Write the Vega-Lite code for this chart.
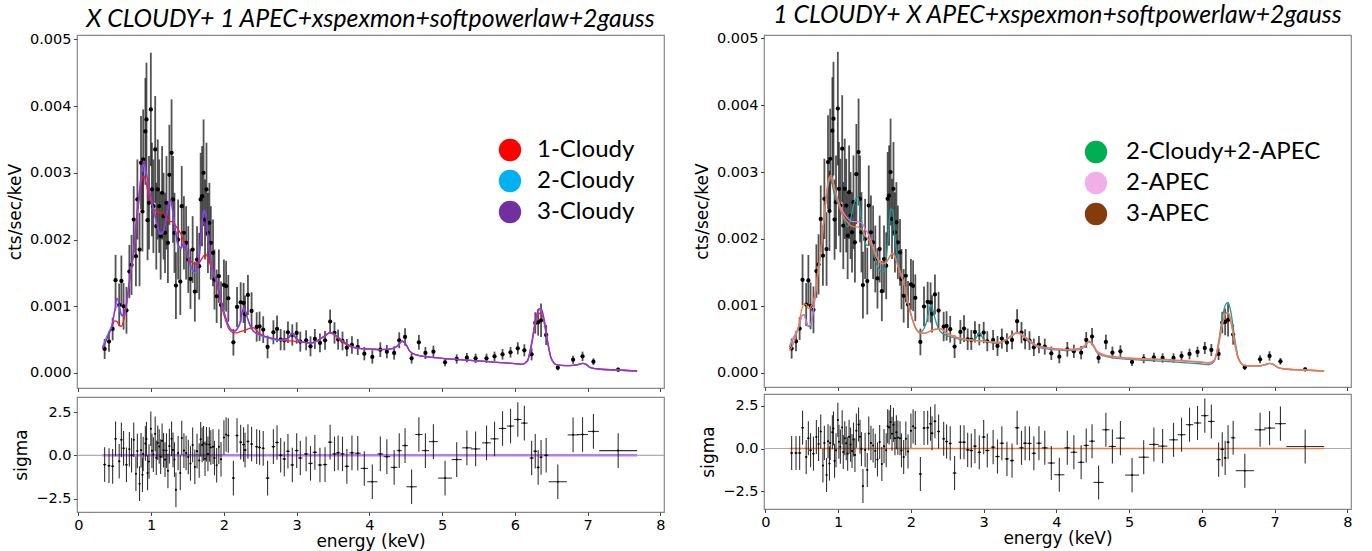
{
"$schema": "https://vega.github.io/schema/vega-lite/v6.json",
"padding": {"left": 5, "top": 2, "right": 5, "bottom": 1},
"background": "white",
"config": {
 "view": {"stroke": "#888888", "strokeWidth": 1.2},
 "axis": {"domain": false, "grid": false, "tickColor": "#444444", "tickSize": 3.5, "tickWidth": 1, "labelFont": "DejaVu Sans", "labelFontSize": 14.5, "labelColor": "#000000", "labelPadding": 2.5, "labelFlush": false, "labelOverlap": false, "titleFont": "DejaVu Sans", "titleFontSize": 17, "titleFontWeight": "normal", "titleColor": "#000000", "titlePadding": 5},
 "title": {"font": "Lato", "fontSize": 24.8, "fontStyle": "italic", "fontWeight": "normal", "color": "#000000", "anchor": "middle"},
 "legend": {"labelFont": "Lato", "labelFontSize": 24, "labelColor": "#000000", "symbolType": "circle", "symbolSize": 500, "symbolStrokeWidth": 0, "symbolOpacity": 1, "rowPadding": 7, "padding": 0, "labelLimit": 400}
},
"datasets": {
"pts": [
{"E":0.36,"v":0.00036,"e":0.00015,"xe":0.02,"se":1,"rl":-0.54,"rr":-0.26},
{"E":0.42,"v":0.00047,"e":0.00015,"xe":0.02,"se":1,"rl":-0.60,"rr":-0.26},
{"E":0.47,"v":0.00066,"e":0.00017,"xe":0.02,"se":1,"rl":-0.64,"rr":-0.26},
{"E":0.51,"v":0.00139,"e":0.00038,"xe":0.015,"se":1,"rl":0.95,"rr":1.22},
{"E":0.56,"v":0.00102,"e":0.00032,"xe":0.015,"se":1,"rl":-0.35,"rr":-0.50},
{"E":0.59,"v":0.00138,"e":0.00038,"xe":0.015,"se":1,"rl":0.90,"rr":0.60},
{"E":0.62,"v":0.00100,"e":0.00035,"xe":0.015,"se":1,"rl":0.40,"rr":-0.10},
{"E":0.66,"v":0.00094,"e":0.00035,"xe":0.015,"se":1,"rl":-0.55,"rr":-0.30},
{"E":0.70,"v":0.00152,"e":0.00040,"xe":0.01,"se":1,"rl":0.35,"rr":0.68},
{"E":0.73,"v":0.00162,"e":0.00045,"xe":0.01,"se":1,"rl":0.00,"rr":0.27},
{"E":0.76,"v":0.00230,"e":0.00050,"xe":0.01,"se":1,"rl":0.90,"rr":1.00},
{"E":0.79,"v":0.00175,"e":0.00045,"xe":0.01,"se":1,"rl":-1.07,"rr":-1.00},
{"E":0.81,"v":0.00260,"e":0.00060,"xe":0.01,"se":1,"rl":0.25,"rr":0.33},
{"E":0.84,"v":0.00185,"e":0.00055,"xe":0.01,"se":1,"rl":-1.64,"rr":-1.55},
{"E":0.86,"v":0.00315,"e":0.00070,"xe":0.01,"se":1,"rl":0.29,"rr":0.43},
{"E":0.88,"v":0.00242,"e":0.00060,"xe":0.01,"se":1,"rl":-1.13,"rr":-0.88},
{"E":0.89,"v":0.00320,"e":0.00075,"xe":0.01,"se":1,"rl":0.07,"rr":0.33},
{"E":0.92,"v":0.00362,"e":0.00080,"xe":0.01,"se":1,"rl":0.68,"rr":0.96},
{"E":0.935,"v":0.00380,"e":0.00085,"xe":0.01,"se":1,"rl":0.94,"rr":1.18},
{"E":0.95,"v":0.00229,"e":0.00060,"xe":0.01,"se":1,"rl":-1.02,"rr":-0.72},
{"E":0.97,"v":0.00255,"e":0.00070,"xe":0.01,"se":1,"rl":-0.36,"rr":-0.10},
{"E":0.995,"v":0.00395,"e":0.00085,"xe":0.01,"se":1,"rl":1.53,"rr":1.68},
{"E":1.01,"v":0.00275,"e":0.00070,"xe":0.01,"se":1,"rl":0.26,"rr":0.40},
{"E":1.03,"v":0.00250,"e":0.00070,"xe":0.01,"se":1,"rl":0.04,"rr":0.11},
{"E":1.055,"v":0.00335,"e":0.00080,"xe":0.01,"se":1,"rl":1.24,"rr":1.24},
{"E":1.07,"v":0.00220,"e":0.00065,"xe":0.01,"se":1,"rl":-0.14,"rr":-0.20},
{"E":1.09,"v":0.00275,"e":0.00075,"xe":0.01,"se":1,"rl":0.72,"rr":0.60},
{"E":1.11,"v":0.00250,"e":0.00070,"xe":0.01,"se":1,"rl":0.51,"rr":0.31},
{"E":1.13,"v":0.00205,"e":0.00065,"xe":0.01,"se":1,"rl":-0.08,"rr":-0.31},
{"E":1.15,"v":0.00270,"e":0.00070,"xe":0.01,"se":1,"rl":0.84,"rr":0.69},
{"E":1.17,"v":0.00235,"e":0.00065,"xe":0.01,"se":1,"rl":0.29,"rr":0.23},
{"E":1.19,"v":0.00210,"e":0.00060,"xe":0.01,"se":1,"rl":-0.25,"rr":-0.15},
{"E":1.21,"v":0.00255,"e":0.00070,"xe":0.01,"se":1,"rl":0.27,"rr":0.53},
{"E":1.23,"v":0.00195,"e":0.00060,"xe":0.01,"se":1,"rl":-0.90,"rr":-0.38},
{"E":1.25,"v":0.00297,"e":0.00075,"xe":0.01,"se":1,"rl":0.53,"rr":1.05},
{"E":1.28,"v":0.00330,"e":0.00080,"xe":0.01,"se":1,"rl":0.96,"rr":1.41},
{"E":1.30,"v":0.00260,"e":0.00065,"xe":0.01,"se":1,"rl":0.31,"rr":0.69},
{"E":1.32,"v":0.00210,"e":0.00060,"xe":0.01,"se":1,"rl":-0.25,"rr":-0.03},
{"E":1.34,"v":0.00131,"e":0.00050,"xe":0.01,"se":1,"rl":-2.00,"rr":-2.20},
{"E":1.37,"v":0.00200,"e":0.00060,"xe":0.01,"se":1,"rl":0.13,"rr":-0.08},
{"E":1.40,"v":0.00137,"e":0.00050,"xe":0.01,"se":1,"rl":-1.02,"rr":-1.26},
{"E":1.42,"v":0.00250,"e":0.00060,"xe":0.01,"se":1,"rl":1.00,"rr":0.88},
{"E":1.45,"v":0.00210,"e":0.00055,"xe":0.01,"se":1,"rl":0.27,"rr":0.33},
{"E":1.48,"v":0.00195,"e":0.00055,"xe":0.01,"se":1,"rl":0.13,"rr":0.18},
{"E":1.51,"v":0.00170,"e":0.00050,"xe":0.01,"se":1,"rl":-0.10,"rr":-0.14},
{"E":1.54,"v":0.00141,"e":0.00045,"xe":0.01,"se":1,"rl":-0.47,"rr":-0.64},
{"E":1.57,"v":0.00185,"e":0.00050,"xe":0.01,"se":1,"rl":0.60,"rr":0.38},
{"E":1.60,"v":0.00122,"e":0.00045,"xe":0.01,"se":1,"rl":-0.67,"rr":-0.91},
{"E":1.63,"v":0.00170,"e":0.00050,"xe":0.01,"se":1,"rl":0.24,"rr":0.14},
{"E":1.66,"v":0.00160,"e":0.00050,"xe":0.01,"se":1,"rl":-0.30,"rr":-0.10},
{"E":1.68,"v":0.00260,"e":0.00070,"xe":0.01,"se":1,"rl":0.93,"rr":1.31},
{"E":1.70,"v":0.00265,"e":0.00075,"xe":0.01,"se":1,"rl":0.60,"rr":1.24},
{"E":1.72,"v":0.00300,"e":0.00080,"xe":0.01,"se":1,"rl":0.69,"rr":1.55},
{"E":1.74,"v":0.00230,"e":0.00060,"xe":0.01,"se":1,"rl":-0.20,"rr":0.87},
{"E":1.76,"v":0.00275,"e":0.00070,"xe":0.01,"se":1,"rl":0.64,"rr":1.39},
{"E":1.78,"v":0.00210,"e":0.00060,"xe":0.01,"se":1,"rl":0.08,"rr":0.60},
{"E":1.80,"v":0.00225,"e":0.00060,"xe":0.01,"se":1,"rl":0.62,"rr":0.95},
{"E":1.82,"v":0.00195,"e":0.00055,"xe":0.01,"se":1,"rl":0.45,"rr":0.64},
{"E":1.85,"v":0.00180,"e":0.00050,"xe":0.01,"se":1,"rl":0.50,"rr":0.60},
{"E":1.87,"v":0.00140,"e":0.00045,"xe":0.01,"se":1,"rl":-0.16,"rr":-0.11},
{"E":1.90,"v":0.00115,"e":0.00040,"xe":0.01,"se":1,"rl":-0.58,"rr":-0.50},
{"E":1.93,"v":0.00145,"e":0.00040,"xe":0.01,"se":1,"rl":0.50,"rr":0.58},
{"E":1.96,"v":0.00102,"e":0.00035,"xe":0.01,"se":1,"rl":-0.23,"rr":-0.17},
{"E":2.00,"v":0.00132,"e":0.00038,"xe":0.012,"se":1,"rl":1.03,"rr":1.05},
{"E":2.03,"v":0.00130,"e":0.00038,"xe":0.012,"se":1,"rl":1.20,"rr":1.30},
{"E":2.06,"v":0.00112,"e":0.00035,"xe":0.012,"se":1,"rl":1.14,"rr":1.20},
{"E":2.13,"v":0.00046,"e":0.00020,"xe":0.02,"se":1,"rl":-1.32,"rr":-1.50},
{"E":2.18,"v":0.00099,"e":0.00030,"xe":0.02,"se":1,"rl":1.14,"rr":1.20},
{"E":2.23,"v":0.00106,"e":0.00030,"xe":0.02,"se":1,"rl":0.76,"rr":1.22},
{"E":2.27,"v":0.00105,"e":0.00030,"xe":0.02,"se":1,"rl":0.62,"rr":1.45},
{"E":2.29,"v":0.00088,"e":0.00028,"xe":0.02,"se":1,"rl":0.30,"rr":0.90},
{"E":2.33,"v":0.00117,"e":0.00030,"xe":0.02,"se":1,"rl":0.80,"rr":1.60},
{"E":2.38,"v":0.00093,"e":0.00028,"xe":0.02,"se":1,"rl":0.65,"rr":1.00},
{"E":2.45,"v":0.00069,"e":0.00022,"xe":0.02,"se":1,"rl":0.50,"rr":0.57},
{"E":2.49,"v":0.00070,"e":0.00022,"xe":0.02,"se":1,"rl":0.45,"rr":0.41},
{"E":2.54,"v":0.00065,"e":0.00020,"xe":0.02,"se":1,"rl":0.40,"rr":0.30},
{"E":2.60,"v":0.00039,"e":0.00017,"xe":0.025,"se":1,"rl":-1.32,"rr":-1.44},
{"E":2.68,"v":0.00061,"e":0.00018,"xe":0.025,"se":1,"rl":0.50,"rr":0.37},
{"E":2.73,"v":0.00066,"e":0.00020,"xe":0.025,"se":1,"rl":0.74,"rr":0.37},
{"E":2.78,"v":0.00050,"e":0.00016,"xe":0.025,"se":1,"rl":0.00,"rr":-0.08},
{"E":2.83,"v":0.00049,"e":0.00015,"xe":0.025,"se":1,"rl":-0.21,"rr":-0.12},
{"E":2.88,"v":0.00061,"e":0.00016,"xe":0.025,"se":1,"rl":0.23,"rr":0.14},
{"E":2.94,"v":0.00057,"e":0.00016,"xe":0.025,"se":1,"rl":-0.56,"rr":-0.22},
{"E":3.00,"v":0.00060,"e":0.00016,"xe":0.025,"se":1,"rl":0.27,"rr":0.67},
{"E":3.05,"v":0.00047,"e":0.00015,"xe":0.03,"se":1,"rl":-0.16,"rr":-0.12},
{"E":3.13,"v":0.00049,"e":0.00015,"xe":0.03,"se":1,"rl":0.08,"rr":0.08},
{"E":3.19,"v":0.00040,"e":0.00015,"xe":0.03,"se":1,"rl":-0.47,"rr":-0.47},
{"E":3.25,"v":0.00051,"e":0.00015,"xe":0.03,"se":1,"rl":0.17,"rr":0.31},
{"E":3.32,"v":0.00045,"e":0.00014,"xe":0.03,"se":1,"rl":-0.56,"rr":-0.61},
{"E":3.39,"v":0.00049,"e":0.00014,"xe":0.03,"se":1,"rl":-0.54,"rr":-0.71},
{"E":3.46,"v":0.00077,"e":0.00018,"xe":0.03,"se":1,"rl":0.76,"rr":1.22},
{"E":3.52,"v":0.00060,"e":0.00016,"xe":0.03,"se":1,"rl":0.08,"rr":0.04},
{"E":3.57,"v":0.00050,"e":0.00015,"xe":0.03,"se":1,"rl":0.14,"rr":0.31},
{"E":3.63,"v":0.00048,"e":0.00014,"xe":0.03,"se":1,"rl":0.08,"rr":0.30},
{"E":3.69,"v":0.00038,"e":0.00013,"xe":0.03,"se":1,"rl":-0.64,"rr":-0.28},
{"E":3.76,"v":0.00042,"e":0.00013,"xe":0.035,"se":1,"rl":0.14,"rr":0.31},
{"E":3.84,"v":0.00039,"e":0.00012,"xe":0.04,"se":1,"rl":0.12,"rr":0.04},
{"E":3.93,"v":0.00029,"e":0.00010,"xe":0.05,"se":1,"rl":-0.76,"rr":-0.85},
{"E":4.04,"v":0.00024,"e":0.00010,"xe":0.07,"se":1,"rl":-1.53,"rr":-1.54},
{"E":4.15,"v":0.00035,"e":0.00011,"xe":0.04,"se":1,"rl":0.08,"rr":0.04},
{"E":4.24,"v":0.00032,"e":0.00010,"xe":0.045,"se":1,"rl":-0.08,"rr":-0.22},
{"E":4.34,"v":0.00030,"e":0.00010,"xe":0.045,"se":1,"rl":-0.70,"rr":-0.81},
{"E":4.41,"v":0.00049,"e":0.00012,"xe":0.035,"se":1,"rl":0.27,"rr":0.18},
{"E":4.49,"v":0.00054,"e":0.00013,"xe":0.04,"se":1,"rl":0.56,"rr":0.43},
{"E":4.58,"v":0.00022,"e":0.00008,"xe":0.07,"se":1,"rl":-1.82,"rr":-1.99},
{"E":4.68,"v":0.00046,"e":0.00011,"xe":0.05,"se":1,"rl":1.20,"rr":1.10},
{"E":4.77,"v":0.00030,"e":0.00009,"xe":0.05,"se":1,"rl":0.27,"rr":0.12},
{"E":4.88,"v":0.00032,"e":0.00009,"xe":0.06,"se":1,"rl":0.79,"rr":0.61},
{"E":5.04,"v":0.00016,"e":0.00006,"xe":0.095,"se":1,"rl":-1.32,"rr":-1.56},
{"E":5.20,"v":0.00021,"e":0.00007,"xe":0.07,"se":1,"rl":-0.25,"rr":-0.51},
{"E":5.34,"v":0.00023,"e":0.00007,"xe":0.065,"se":1,"rl":0.43,"rr":0.24},
{"E":5.46,"v":0.00022,"e":0.00007,"xe":0.065,"se":1,"rl":0.37,"rr":0.14},
{"E":5.61,"v":0.00022,"e":0.00007,"xe":0.06,"se":1,"rl":0.72,"rr":0.51},
{"E":5.72,"v":0.00025,"e":0.00007,"xe":0.055,"se":1,"rl":0.95,"rr":0.81},
{"E":5.83,"v":0.00028,"e":0.00008,"xe":0.05,"se":1,"rl":1.55,"rr":1.40},
{"E":5.94,"v":0.00031,"e":0.00008,"xe":0.05,"se":1,"rl":1.69,"rr":1.50},
{"E":6.04,"v":0.00037,"e":0.00009,"xe":0.05,"se":1,"rl":2.07,"rr":1.93},
{"E":6.13,"v":0.00034,"e":0.00009,"xe":0.045,"se":1,"rl":1.86,"rr":1.59},
{"E":6.23,"v":0.00028,"e":0.00009,"xe":0.03,"se":1,"rl":-0.16,"rr":-0.65},
{"E":6.28,"v":0.00075,"e":0.00016,"xe":0.025,"se":1,"rl":0.23,"rr":-0.05},
{"E":6.32,"v":0.00076,"e":0.00020,"xe":0.02,"se":1,"rl":-0.70,"rr":-0.55},
{"E":6.36,"v":0.00079,"e":0.00025,"xe":0.02,"se":1,"rl":-0.12,"rr":0.37},
{"E":6.43,"v":0.00057,"e":0.00015,"xe":0.03,"se":1,"rl":0.00,"rr":0.63},
{"E":6.59,"v":0.00008,"e":0.00004,"xe":0.125,"se":1,"rl":-1.53,"rr":-1.30},
{"E":6.80,"v":0.00020,"e":0.00006,"xe":0.075,"se":1,"rl":1.18,"rr":1.10},
{"E":6.93,"v":0.00025,"e":0.00007,"xe":0.075,"se":1,"rl":1.20,"rr":1.20},
{"E":7.08,"v":0.00017,"e":0.00005,"xe":0.075,"se":1,"rl":1.38,"rr":1.46},
{"E":7.42,"v":0.00005,"e":0.00003,"xe":0.26,"se":1,"rl":0.27,"rr":0.12}
],
"mod": [
{"E":0.33,"1-Cloudy":0.00038,"2-Cloudy":0.00038,"3-Cloudy":0.00036,"2-Cloudy+2-APEC":0.00038,"2-APEC":0.00040,"3-APEC":0.00033},
{"E":0.38,"1-Cloudy":0.00050,"2-Cloudy":0.00052,"3-Cloudy":0.00048,"2-Cloudy+2-APEC":0.00050,"2-APEC":0.00052,"3-APEC":0.00042},
{"E":0.42,"1-Cloudy":0.00060,"2-Cloudy":0.00062,"3-Cloudy":0.00058,"2-Cloudy+2-APEC":0.00058,"2-APEC":0.00060,"3-APEC":0.00055},
{"E":0.46,"1-Cloudy":0.00070,"2-Cloudy":0.00072,"3-Cloudy":0.00070,"2-Cloudy+2-APEC":0.00068,"2-APEC":0.00070,"3-APEC":0.00072},
{"E":0.50,"1-Cloudy":0.00078,"2-Cloudy":0.00092,"3-Cloudy":0.00095,"2-Cloudy+2-APEC":0.00085,"2-APEC":0.00085,"3-APEC":0.00095},
{"E":0.53,"1-Cloudy":0.00077,"2-Cloudy":0.00100,"3-Cloudy":0.00112,"2-Cloudy+2-APEC":0.00087,"2-APEC":0.00086,"3-APEC":0.00103},
{"E":0.56,"1-Cloudy":0.00072,"2-Cloudy":0.00098,"3-Cloudy":0.00102,"2-Cloudy+2-APEC":0.00078,"2-APEC":0.00076,"3-APEC":0.00102},
{"E":0.59,"1-Cloudy":0.00070,"2-Cloudy":0.00086,"3-Cloudy":0.00088,"2-Cloudy+2-APEC":0.00069,"2-APEC":0.00070,"3-APEC":0.00096},
{"E":0.62,"1-Cloudy":0.00078,"2-Cloudy":0.00085,"3-Cloudy":0.00086,"2-Cloudy+2-APEC":0.00070,"2-APEC":0.00072,"3-APEC":0.00098},
{"E":0.65,"1-Cloudy":0.00095,"2-Cloudy":0.00097,"3-Cloudy":0.00098,"2-Cloudy+2-APEC":0.00085,"2-APEC":0.00088,"3-APEC":0.00105},
{"E":0.69,"1-Cloudy":0.00125,"2-Cloudy":0.00128,"3-Cloudy":0.00130,"2-Cloudy+2-APEC":0.00120,"2-APEC":0.00122,"3-APEC":0.00122},
{"E":0.72,"1-Cloudy":0.00150,"2-Cloudy":0.00153,"3-Cloudy":0.00155,"2-Cloudy+2-APEC":0.00148,"2-APEC":0.00148,"3-APEC":0.00148},
{"E":0.76,"1-Cloudy":0.00180,"2-Cloudy":0.00183,"3-Cloudy":0.00185,"2-Cloudy+2-APEC":0.00180,"2-APEC":0.00180,"3-APEC":0.00180},
{"E":0.80,"1-Cloudy":0.00225,"2-Cloudy":0.00232,"3-Cloudy":0.00235,"2-Cloudy+2-APEC":0.00225,"2-APEC":0.00225,"3-APEC":0.00225},
{"E":0.84,"1-Cloudy":0.00265,"2-Cloudy":0.00272,"3-Cloudy":0.00275,"2-Cloudy+2-APEC":0.00265,"2-APEC":0.00265,"3-APEC":0.00268},
{"E":0.87,"1-Cloudy":0.00290,"2-Cloudy":0.00302,"3-Cloudy":0.00305,"2-Cloudy+2-APEC":0.00285,"2-APEC":0.00288,"3-APEC":0.00290},
{"E":0.90,"1-Cloudy":0.00295,"2-Cloudy":0.00312,"3-Cloudy":0.00318,"2-Cloudy+2-APEC":0.00289,"2-APEC":0.00292,"3-APEC":0.00295},
{"E":0.93,"1-Cloudy":0.00285,"2-Cloudy":0.00298,"3-Cloudy":0.00302,"2-Cloudy+2-APEC":0.00275,"2-APEC":0.00285,"3-APEC":0.00285},
{"E":0.96,"1-Cloudy":0.00270,"2-Cloudy":0.00282,"3-Cloudy":0.00285,"2-Cloudy+2-APEC":0.00262,"2-APEC":0.00272,"3-APEC":0.00270},
{"E":1.00,"1-Cloudy":0.00255,"2-Cloudy":0.00260,"3-Cloudy":0.00262,"2-Cloudy+2-APEC":0.00252,"2-APEC":0.00258,"3-APEC":0.00255},
{"E":1.04,"1-Cloudy":0.00245,"2-Cloudy":0.00240,"3-Cloudy":0.00242,"2-Cloudy+2-APEC":0.00242,"2-APEC":0.00246,"3-APEC":0.00242},
{"E":1.08,"1-Cloudy":0.00242,"2-Cloudy":0.00223,"3-Cloudy":0.00225,"2-Cloudy+2-APEC":0.00230,"2-APEC":0.00238,"3-APEC":0.00232},
{"E":1.12,"1-Cloudy":0.00240,"2-Cloudy":0.00208,"3-Cloudy":0.00210,"2-Cloudy+2-APEC":0.00218,"2-APEC":0.00232,"3-APEC":0.00226},
{"E":1.16,"1-Cloudy":0.00240,"2-Cloudy":0.00210,"3-Cloudy":0.00212,"2-Cloudy+2-APEC":0.00225,"2-APEC":0.00228,"3-APEC":0.00221},
{"E":1.20,"1-Cloudy":0.00235,"2-Cloudy":0.00228,"3-Cloudy":0.00230,"2-Cloudy+2-APEC":0.00245,"2-APEC":0.00226,"3-APEC":0.00219},
{"E":1.24,"1-Cloudy":0.00228,"2-Cloudy":0.00252,"3-Cloudy":0.00255,"2-Cloudy+2-APEC":0.00260,"2-APEC":0.00226,"3-APEC":0.00218},
{"E":1.27,"1-Cloudy":0.00227,"2-Cloudy":0.00258,"3-Cloudy":0.00260,"2-Cloudy+2-APEC":0.00263,"2-APEC":0.00226,"3-APEC":0.00218},
{"E":1.30,"1-Cloudy":0.00226,"2-Cloudy":0.00238,"3-Cloudy":0.00240,"2-Cloudy+2-APEC":0.00245,"2-APEC":0.00225,"3-APEC":0.00216},
{"E":1.34,"1-Cloudy":0.00220,"2-Cloudy":0.00208,"3-Cloudy":0.00210,"2-Cloudy+2-APEC":0.00210,"2-APEC":0.00222,"3-APEC":0.00212},
{"E":1.37,"1-Cloudy":0.00215,"2-Cloudy":0.00190,"3-Cloudy":0.00192,"2-Cloudy+2-APEC":0.00193,"2-APEC":0.00215,"3-APEC":0.00205},
{"E":1.41,"1-Cloudy":0.00208,"2-Cloudy":0.00186,"3-Cloudy":0.00188,"2-Cloudy+2-APEC":0.00190,"2-APEC":0.00208,"3-APEC":0.00200},
{"E":1.45,"1-Cloudy":0.00195,"2-Cloudy":0.00193,"3-Cloudy":0.00195,"2-Cloudy+2-APEC":0.00192,"2-APEC":0.00198,"3-APEC":0.00193},
{"E":1.49,"1-Cloudy":0.00180,"2-Cloudy":0.00183,"3-Cloudy":0.00185,"2-Cloudy+2-APEC":0.00178,"2-APEC":0.00185,"3-APEC":0.00183},
{"E":1.53,"1-Cloudy":0.00170,"2-Cloudy":0.00163,"3-Cloudy":0.00165,"2-Cloudy+2-APEC":0.00162,"2-APEC":0.00173,"3-APEC":0.00172},
{"E":1.57,"1-Cloudy":0.00165,"2-Cloudy":0.00153,"3-Cloudy":0.00155,"2-Cloudy+2-APEC":0.00153,"2-APEC":0.00166,"3-APEC":0.00166},
{"E":1.61,"1-Cloudy":0.00163,"2-Cloudy":0.00150,"3-Cloudy":0.00152,"2-Cloudy+2-APEC":0.00150,"2-APEC":0.00163,"3-APEC":0.00163},
{"E":1.65,"1-Cloudy":0.00164,"2-Cloudy":0.00163,"3-Cloudy":0.00165,"2-Cloudy+2-APEC":0.00162,"2-APEC":0.00164,"3-APEC":0.00164},
{"E":1.69,"1-Cloudy":0.00170,"2-Cloudy":0.00208,"3-Cloudy":0.00210,"2-Cloudy+2-APEC":0.00205,"2-APEC":0.00170,"3-APEC":0.00170},
{"E":1.72,"1-Cloudy":0.00175,"2-Cloudy":0.00242,"3-Cloudy":0.00245,"2-Cloudy+2-APEC":0.00245,"2-APEC":0.00176,"3-APEC":0.00176},
{"E":1.75,"1-Cloudy":0.00178,"2-Cloudy":0.00238,"3-Cloudy":0.00240,"2-Cloudy+2-APEC":0.00242,"2-APEC":0.00179,"3-APEC":0.00178},
{"E":1.78,"1-Cloudy":0.00172,"2-Cloudy":0.00203,"3-Cloudy":0.00205,"2-Cloudy+2-APEC":0.00205,"2-APEC":0.00174,"3-APEC":0.00174},
{"E":1.82,"1-Cloudy":0.00160,"2-Cloudy":0.00168,"3-Cloudy":0.00170,"2-Cloudy+2-APEC":0.00168,"2-APEC":0.00160,"3-APEC":0.00160},
{"E":1.86,"1-Cloudy":0.00148,"2-Cloudy":0.00148,"3-Cloudy":0.00150,"2-Cloudy+2-APEC":0.00147,"2-APEC":0.00148,"3-APEC":0.00148},
{"E":1.90,"1-Cloudy":0.00135,"2-Cloudy":0.00137,"3-Cloudy":0.00138,"2-Cloudy+2-APEC":0.00135,"2-APEC":0.00135,"3-APEC":0.00135},
{"E":1.94,"1-Cloudy":0.00115,"2-Cloudy":0.00119,"3-Cloudy":0.00120,"2-Cloudy+2-APEC":0.00115,"2-APEC":0.00116,"3-APEC":0.00116},
{"E":1.98,"1-Cloudy":0.00095,"2-Cloudy":0.00099,"3-Cloudy":0.00100,"2-Cloudy+2-APEC":0.00095,"2-APEC":0.00096,"3-APEC":0.00096},
{"E":2.02,"1-Cloudy":0.00080,"2-Cloudy":0.00084,"3-Cloudy":0.00085,"2-Cloudy+2-APEC":0.00080,"2-APEC":0.00080,"3-APEC":0.00080},
{"E":2.06,"1-Cloudy":0.00068,"2-Cloudy":0.00071,"3-Cloudy":0.00072,"2-Cloudy+2-APEC":0.00068,"2-APEC":0.00068,"3-APEC":0.00068},
{"E":2.10,"1-Cloudy":0.00062,"2-Cloudy":0.00064,"3-Cloudy":0.00065,"2-Cloudy+2-APEC":0.00062,"2-APEC":0.00061,"3-APEC":0.00061},
{"E":2.14,"1-Cloudy":0.00060,"2-Cloudy":0.00062,"3-Cloudy":0.00063,"2-Cloudy+2-APEC":0.00061,"2-APEC":0.00059,"3-APEC":0.00059},
{"E":2.18,"1-Cloudy":0.00060,"2-Cloudy":0.00065,"3-Cloudy":0.00066,"2-Cloudy+2-APEC":0.00066,"2-APEC":0.00059,"3-APEC":0.00059},
{"E":2.22,"1-Cloudy":0.00062,"2-Cloudy":0.00074,"3-Cloudy":0.00075,"2-Cloudy+2-APEC":0.00078,"2-APEC":0.00060,"3-APEC":0.00060},
{"E":2.26,"1-Cloudy":0.00063,"2-Cloudy":0.00094,"3-Cloudy":0.00095,"2-Cloudy+2-APEC":0.00098,"2-APEC":0.00062,"3-APEC":0.00062},
{"E":2.28,"1-Cloudy":0.00064,"2-Cloudy":0.00097,"3-Cloudy":0.00098,"2-Cloudy+2-APEC":0.00101,"2-APEC":0.00063,"3-APEC":0.00063},
{"E":2.31,"1-Cloudy":0.00065,"2-Cloudy":0.00087,"3-Cloudy":0.00088,"2-Cloudy+2-APEC":0.00090,"2-APEC":0.00064,"3-APEC":0.00064},
{"E":2.35,"1-Cloudy":0.00067,"2-Cloudy":0.00073,"3-Cloudy":0.00074,"2-Cloudy+2-APEC":0.00074,"2-APEC":0.00065,"3-APEC":0.00065},
{"E":2.40,"1-Cloudy":0.00068,"2-Cloudy":0.00063,"3-Cloudy":0.00064,"2-Cloudy+2-APEC":0.00062,"2-APEC":0.00066,"3-APEC":0.00066},
{"E":2.48,"1-Cloudy":0.00060,"2-Cloudy":0.00057,"3-Cloudy":0.00058,"2-Cloudy+2-APEC":0.00056,"2-APEC":0.00060,"3-APEC":0.00060},
{"E":2.60,"1-Cloudy":0.00053,"2-Cloudy":0.00053,"3-Cloudy":0.00054,"2-Cloudy+2-APEC":0.00052,"2-APEC":0.00053,"3-APEC":0.00054},
{"E":2.75,"1-Cloudy":0.00050,"2-Cloudy":0.00049,"3-Cloudy":0.00050,"2-Cloudy+2-APEC":0.00049,"2-APEC":0.00050,"3-APEC":0.00050},
{"E":2.88,"1-Cloudy":0.00048,"2-Cloudy":0.00051,"3-Cloudy":0.00052,"2-Cloudy+2-APEC":0.00050,"2-APEC":0.00048,"3-APEC":0.00048},
{"E":2.94,"1-Cloudy":0.00048,"2-Cloudy":0.00059,"3-Cloudy":0.00060,"2-Cloudy+2-APEC":0.00059,"2-APEC":0.00048,"3-APEC":0.00048},
{"E":3.00,"1-Cloudy":0.00047,"2-Cloudy":0.00050,"3-Cloudy":0.00051,"2-Cloudy+2-APEC":0.00050,"2-APEC":0.00047,"3-APEC":0.00047},
{"E":3.10,"1-Cloudy":0.00046,"2-Cloudy":0.00046,"3-Cloudy":0.00046,"2-Cloudy+2-APEC":0.00045,"2-APEC":0.00046,"3-APEC":0.00046},
{"E":3.20,"1-Cloudy":0.00045,"2-Cloudy":0.00045,"3-Cloudy":0.00045,"2-Cloudy+2-APEC":0.00044,"2-APEC":0.00045,"3-APEC":0.00045},
{"E":3.31,"1-Cloudy":0.00050,"2-Cloudy":0.00050,"3-Cloudy":0.00050,"2-Cloudy+2-APEC":0.00049,"2-APEC":0.00050,"3-APEC":0.00050},
{"E":3.40,"1-Cloudy":0.00056,"2-Cloudy":0.00057,"3-Cloudy":0.00057,"2-Cloudy+2-APEC":0.00056,"2-APEC":0.00057,"3-APEC":0.00057},
{"E":3.46,"1-Cloudy":0.00060,"2-Cloudy":0.00061,"3-Cloudy":0.00061,"2-Cloudy+2-APEC":0.00060,"2-APEC":0.00060,"3-APEC":0.00060},
{"E":3.52,"1-Cloudy":0.00057,"2-Cloudy":0.00058,"3-Cloudy":0.00058,"2-Cloudy+2-APEC":0.00057,"2-APEC":0.00057,"3-APEC":0.00058},
{"E":3.61,"1-Cloudy":0.00048,"2-Cloudy":0.00050,"3-Cloudy":0.00050,"2-Cloudy+2-APEC":0.00048,"2-APEC":0.00049,"3-APEC":0.00050},
{"E":3.73,"1-Cloudy":0.00040,"2-Cloudy":0.00041,"3-Cloudy":0.00041,"2-Cloudy+2-APEC":0.00039,"2-APEC":0.00040,"3-APEC":0.00041},
{"E":3.85,"1-Cloudy":0.00037,"2-Cloudy":0.00037,"3-Cloudy":0.00037,"2-Cloudy+2-APEC":0.00036,"2-APEC":0.00037,"3-APEC":0.00038},
{"E":4.00,"1-Cloudy":0.00036,"2-Cloudy":0.00036,"3-Cloudy":0.00036,"2-Cloudy+2-APEC":0.00034,"2-APEC":0.00035,"3-APEC":0.00036},
{"E":4.15,"1-Cloudy":0.00035,"2-Cloudy":0.00035,"3-Cloudy":0.00035,"2-Cloudy+2-APEC":0.00033,"2-APEC":0.00034,"3-APEC":0.00035},
{"E":4.30,"1-Cloudy":0.00036,"2-Cloudy":0.00036,"3-Cloudy":0.00036,"2-Cloudy+2-APEC":0.00034,"2-APEC":0.00035,"3-APEC":0.00036},
{"E":4.38,"1-Cloudy":0.00040,"2-Cloudy":0.00040,"3-Cloudy":0.00040,"2-Cloudy+2-APEC":0.00038,"2-APEC":0.00039,"3-APEC":0.00040},
{"E":4.45,"1-Cloudy":0.00047,"2-Cloudy":0.00048,"3-Cloudy":0.00048,"2-Cloudy+2-APEC":0.00046,"2-APEC":0.00046,"3-APEC":0.00047},
{"E":4.50,"1-Cloudy":0.00043,"2-Cloudy":0.00043,"3-Cloudy":0.00043,"2-Cloudy+2-APEC":0.00041,"2-APEC":0.00042,"3-APEC":0.00043},
{"E":4.56,"1-Cloudy":0.00032,"2-Cloudy":0.00032,"3-Cloudy":0.00032,"2-Cloudy+2-APEC":0.00030,"2-APEC":0.00031,"3-APEC":0.00032},
{"E":4.65,"1-Cloudy":0.00027,"2-Cloudy":0.00027,"3-Cloudy":0.00027,"2-Cloudy+2-APEC":0.00025,"2-APEC":0.00026,"3-APEC":0.00027},
{"E":4.80,"1-Cloudy":0.00024,"2-Cloudy":0.00024,"3-Cloudy":0.00024,"2-Cloudy+2-APEC":0.00022,"2-APEC":0.00023,"3-APEC":0.00024},
{"E":5.00,"1-Cloudy":0.00022,"2-Cloudy":0.00022,"3-Cloudy":0.00022,"2-Cloudy+2-APEC":0.00020,"2-APEC":0.00021,"3-APEC":0.00022},
{"E":5.50,"1-Cloudy":0.00018,"2-Cloudy":0.00018,"3-Cloudy":0.00018,"2-Cloudy+2-APEC":0.00017,"2-APEC":0.00019,"3-APEC":0.00020},
{"E":6.00,"1-Cloudy":0.00014,"2-Cloudy":0.00014,"3-Cloudy":0.00014,"2-Cloudy+2-APEC":0.00013,"2-APEC":0.00015,"3-APEC":0.00016},
{"E":6.10,"1-Cloudy":0.00013,"2-Cloudy":0.00013,"3-Cloudy":0.00013,"2-Cloudy+2-APEC":0.00012,"2-APEC":0.00014,"3-APEC":0.00015},
{"E":6.17,"1-Cloudy":0.00017,"2-Cloudy":0.00018,"3-Cloudy":0.00018,"2-Cloudy+2-APEC":0.00017,"2-APEC":0.00018,"3-APEC":0.00019},
{"E":6.23,"1-Cloudy":0.00042,"2-Cloudy":0.00044,"3-Cloudy":0.00045,"2-Cloudy+2-APEC":0.00046,"2-APEC":0.00042,"3-APEC":0.00042},
{"E":6.28,"1-Cloudy":0.00072,"2-Cloudy":0.00076,"3-Cloudy":0.00078,"2-Cloudy+2-APEC":0.00082,"2-APEC":0.00072,"3-APEC":0.00072},
{"E":6.33,"1-Cloudy":0.00089,"2-Cloudy":0.00094,"3-Cloudy":0.00096,"2-Cloudy+2-APEC":0.00103,"2-APEC":0.00089,"3-APEC":0.00089},
{"E":6.36,"1-Cloudy":0.00090,"2-Cloudy":0.00095,"3-Cloudy":0.00097,"2-Cloudy+2-APEC":0.00105,"2-APEC":0.00090,"3-APEC":0.00090},
{"E":6.40,"1-Cloudy":0.00076,"2-Cloudy":0.00080,"3-Cloudy":0.00082,"2-Cloudy+2-APEC":0.00090,"2-APEC":0.00076,"3-APEC":0.00076},
{"E":6.45,"1-Cloudy":0.00045,"2-Cloudy":0.00047,"3-Cloudy":0.00048,"2-Cloudy+2-APEC":0.00052,"2-APEC":0.00045,"3-APEC":0.00045},
{"E":6.50,"1-Cloudy":0.00021,"2-Cloudy":0.00022,"3-Cloudy":0.00022,"2-Cloudy+2-APEC":0.00023,"2-APEC":0.00021,"3-APEC":0.00021},
{"E":6.58,"1-Cloudy":0.00012,"2-Cloudy":0.00012,"3-Cloudy":0.00012,"2-Cloudy+2-APEC":0.00011,"2-APEC":0.00011,"3-APEC":0.00011},
{"E":6.70,"1-Cloudy":0.00011,"2-Cloudy":0.00011,"3-Cloudy":0.00011,"2-Cloudy+2-APEC":0.00010,"2-APEC":0.00010,"3-APEC":0.00010},
{"E":6.80,"1-Cloudy":0.000115,"2-Cloudy":0.000115,"3-Cloudy":0.000115,"2-Cloudy+2-APEC":0.00010,"2-APEC":0.000105,"3-APEC":0.000105},
{"E":6.88,"1-Cloudy":0.00013,"2-Cloudy":0.00013,"3-Cloudy":0.00013,"2-Cloudy+2-APEC":0.00012,"2-APEC":0.000125,"3-APEC":0.000125},
{"E":6.93,"1-Cloudy":0.000145,"2-Cloudy":0.000145,"3-Cloudy":0.000145,"2-Cloudy+2-APEC":0.00014,"2-APEC":0.00014,"3-APEC":0.00014},
{"E":6.98,"1-Cloudy":0.00013,"2-Cloudy":0.00013,"3-Cloudy":0.00013,"2-Cloudy+2-APEC":0.000125,"2-APEC":0.000125,"3-APEC":0.000125},
{"E":7.04,"1-Cloudy":0.00008,"2-Cloudy":0.00008,"3-Cloudy":0.00008,"2-Cloudy+2-APEC":0.00008,"2-APEC":0.00008,"3-APEC":0.00008},
{"E":7.15,"1-Cloudy":0.00006,"2-Cloudy":0.00006,"3-Cloudy":0.00006,"2-Cloudy+2-APEC":0.000055,"2-APEC":0.000055,"3-APEC":0.000055},
{"E":7.40,"1-Cloudy":0.000045,"2-Cloudy":0.000045,"3-Cloudy":0.000045,"2-Cloudy+2-APEC":0.00004,"2-APEC":0.00004,"3-APEC":0.00004},
{"E":7.68,"1-Cloudy":0.00003,"2-Cloudy":0.00003,"3-Cloudy":0.00003,"2-Cloudy+2-APEC":0.000025,"2-APEC":0.000025,"3-APEC":0.000025}
]
},
"spacing": 26,
"resolve": {"scale": {"x": "independent", "y": "independent", "fill": "independent", "stroke": "independent"}, "legend": {"fill": "independent", "stroke": "independent"}},
"hconcat": [
{
 "spacing": 3,
 "resolve": {"scale": {"y": "independent"}},
 "vconcat": [
 {
  "width": 587, "height": 353,
  "title": {"text": "X CLOUDY+ 1 APEC+xspexmon+softpowerlaw+2gauss", "offset": 0},
  "encoding": {
   "x": {"field": "E", "type": "quantitative", "scale": {"domain": [-0.02, 8.05], "nice": false, "zero": false}, "axis": {"values": [0,1,2,3,4,5,6,7,8], "labels": false, "title": null}},
   "y": {"field": "v", "type": "quantitative", "scale": {"domain": [-0.000225, 0.005065], "nice": false, "zero": false}, "axis": {"values": [0, 0.001, 0.002, 0.003, 0.004, 0.005], "format": ".3f", "title": "cts/sec/keV"}}
  },
  "layer": [
   {"data": {"name": "pts"}, "mark": {"type": "errorbar", "color": "#1a1a1a", "opacity": 0.75, "thickness": 1.8}, "encoding": {"yError": {"field": "e"}}},
   {"data": {"name": "pts"}, "mark": {"type": "point", "filled": true, "color": "#000000", "size": 18, "opacity": 1}},
   {"data": {"name": "mod"}, "transform": [{"fold": ["1-Cloudy", "2-Cloudy", "3-Cloudy"], "as": ["m", "v"]}],
    "layer": [
     {"mark": {"type": "line", "strokeWidth": 1.3, "interpolate": "monotone"}, "encoding": {"stroke": {"field": "m", "type": "nominal", "scale": {"domain": ["3-Cloudy", "2-Cloudy", "1-Cloudy"], "range": ["#a12bd6", "#3d8ef5", "#ff1a1a"]}, "legend": null}}},
     {"mark": {"type": "point", "filled": true, "size": 0, "opacity": 1}, "encoding": {"fill": {"field": "m", "type": "nominal", "scale": {"domain": ["1-Cloudy", "2-Cloudy", "3-Cloudy"], "range": ["#ff0000", "#00b0f0", "#7030a0"]}, "legend": {"title": null, "orient": "none", "legendX": 421, "legendY": 103, "labelOffset": 15, "symbolSize": 500, "symbolOpacity": 1, "symbolStrokeWidth": 0, "rowPadding": 7}}}}
    ]}
  ]
 },
 {
  "width": 587, "height": 115,
  "layer": [
   {"data": {"values": [{}]}, "mark": {"type": "rule", "color": "#999999", "strokeWidth": 1}, "encoding": {"y": {"datum": 0, "type": "quantitative", "scale": {"domain": [-3.28, 3.37], "nice": false, "zero": false}}}},
   {"data": {"name": "mod"}, "mark": {"type": "line", "color": "#b57ee8", "strokeWidth": 2.6}, "encoding": {
     "x": {"field": "E", "type": "quantitative", "title": "energy (keV)", "scale": {"domain": [-0.02, 8.05], "nice": false, "zero": false}, "axis": {"values": [0,1,2,3,4,5,6,7,8], "format": "d", "titlePadding": 2}},
     "y": {"datum": 0, "type": "quantitative", "scale": {"domain": [-3.28, 3.37], "nice": false, "zero": false}}}},
   {"data": {"name": "pts"}, "mark": {"type": "errorbar", "color": "#111111", "opacity": 0.85, "thickness": 1.1}, "encoding": {
     "x": {"field": "E", "type": "quantitative", "title": "energy (keV)", "scale": {"domain": [-0.02, 8.05], "nice": false, "zero": false}, "axis": {"values": [0,1,2,3,4,5,6,7,8], "format": "d", "titlePadding": 2}},
     "y": {"field": "rl", "type": "quantitative", "title": "sigma", "scale": {"domain": [-3.28, 3.37], "nice": false, "zero": false}, "axis": {"values": [-2.5, 0, 2.5], "format": ".1f"}},
     "yError": {"field": "se"}}},
   {"data": {"name": "pts"}, "mark": {"type": "errorbar", "color": "#111111", "opacity": 0.85, "thickness": 1.1}, "encoding": {
     "x": {"field": "E", "type": "quantitative", "title": "energy (keV)", "scale": {"domain": [-0.02, 8.05], "nice": false, "zero": false}, "axis": {"values": [0,1,2,3,4,5,6,7,8], "format": "d", "titlePadding": 2}},
     "y": {"field": "rl", "type": "quantitative", "title": "sigma", "scale": {"domain": [-3.28, 3.37], "nice": false, "zero": false}, "axis": {"values": [-2.5, 0, 2.5], "format": ".1f"}},
     "xError": {"field": "xe"}}},
   {"data": {"name": "pts"}, "mark": {"type": "point", "filled": true, "color": "#000000", "size": 4, "opacity": 1}, "encoding": {
     "x": {"field": "E", "type": "quantitative", "title": "energy (keV)", "scale": {"domain": [-0.02, 8.05], "nice": false, "zero": false}, "axis": {"values": [0,1,2,3,4,5,6,7,8], "format": "d", "titlePadding": 2}},
     "y": {"field": "rl", "type": "quantitative", "title": "sigma", "scale": {"domain": [-3.28, 3.37], "nice": false, "zero": false}, "axis": {"values": [-2.5, 0, 2.5], "format": ".1f"}}}}
  ]
 }
 ]
},
{
 "spacing": 1,
 "resolve": {"scale": {"y": "independent"}},
 "vconcat": [
 {
  "width": 587, "height": 352,
  "title": {"text": "1 CLOUDY+ X APEC+xspexmon+softpowerlaw+2gauss", "offset": 3},
  "encoding": {
   "x": {"field": "E", "type": "quantitative", "scale": {"domain": [-0.02, 8.05], "nice": false, "zero": false}, "axis": {"values": [0,1,2,3,4,5,6,7,8], "labels": false, "title": null}},
   "y": {"field": "v", "type": "quantitative", "scale": {"domain": [-0.000214, 0.005051], "nice": false, "zero": false}, "axis": {"values": [0, 0.001, 0.002, 0.003, 0.004, 0.005], "format": ".3f", "title": "cts/sec/keV"}}
  },
  "layer": [
   {"data": {"name": "pts"}, "mark": {"type": "errorbar", "color": "#1a1a1a", "opacity": 0.75, "thickness": 1.8}, "encoding": {"yError": {"field": "e"}}},
   {"data": {"name": "pts"}, "mark": {"type": "point", "filled": true, "color": "#000000", "size": 18, "opacity": 1}},
   {"data": {"name": "mod"}, "transform": [{"fold": ["2-Cloudy+2-APEC", "2-APEC", "3-APEC"], "as": ["m", "v"]}],
    "layer": [
     {"mark": {"type": "line", "strokeWidth": 1.3, "interpolate": "monotone"}, "encoding": {"stroke": {"field": "m", "type": "nominal", "scale": {"domain": ["3-APEC", "2-APEC", "2-Cloudy+2-APEC"], "range": ["#f07c3a", "#e377d9", "#1f9b9b"]}, "legend": null}}},
     {"mark": {"type": "point", "filled": true, "size": 0, "opacity": 1}, "encoding": {"fill": {"field": "m", "type": "nominal", "scale": {"domain": ["2-Cloudy+2-APEC", "2-APEC", "3-APEC"], "range": ["#00b050", "#f2aee6", "#843c0c"]}, "legend": {"title": null, "orient": "none", "legendX": 320, "legendY": 105, "labelOffset": 18, "symbolSize": 500, "symbolOpacity": 1, "symbolStrokeWidth": 0, "rowPadding": 7}}}}
    ]}
  ]
 },
 {
  "width": 587, "height": 115,
  "layer": [
   {"data": {"values": [{}]}, "mark": {"type": "rule", "color": "#aaaaaa", "strokeWidth": 1}, "encoding": {"y": {"datum": 0, "type": "quantitative", "scale": {"domain": [-3.55, 3.2], "nice": false, "zero": false}}}},
   {"data": {"name": "mod"}, "mark": {"type": "line", "color": "#f07c3a", "strokeWidth": 1.6}, "encoding": {
     "x": {"field": "E", "type": "quantitative", "title": "energy (keV)", "scale": {"domain": [-0.02, 8.05], "nice": false, "zero": false}, "axis": {"values": [0,1,2,3,4,5,6,7,8], "format": "d", "titlePadding": 2}},
     "y": {"datum": 0, "type": "quantitative", "scale": {"domain": [-3.55, 3.2], "nice": false, "zero": false}}}},
   {"data": {"name": "pts"}, "mark": {"type": "errorbar", "color": "#111111", "opacity": 0.85, "thickness": 1.1}, "encoding": {
     "x": {"field": "E", "type": "quantitative", "title": "energy (keV)", "scale": {"domain": [-0.02, 8.05], "nice": false, "zero": false}, "axis": {"values": [0,1,2,3,4,5,6,7,8], "format": "d", "titlePadding": 2}},
     "y": {"field": "rr", "type": "quantitative", "title": "sigma", "scale": {"domain": [-3.55, 3.2], "nice": false, "zero": false}, "axis": {"values": [-2.5, 0, 2.5], "format": ".1f"}},
     "yError": {"field": "se"}}},
   {"data": {"name": "pts"}, "mark": {"type": "errorbar", "color": "#111111", "opacity": 0.85, "thickness": 1.1}, "encoding": {
     "x": {"field": "E", "type": "quantitative", "title": "energy (keV)", "scale": {"domain": [-0.02, 8.05], "nice": false, "zero": false}, "axis": {"values": [0,1,2,3,4,5,6,7,8], "format": "d", "titlePadding": 2}},
     "y": {"field": "rr", "type": "quantitative", "title": "sigma", "scale": {"domain": [-3.55, 3.2], "nice": false, "zero": false}, "axis": {"values": [-2.5, 0, 2.5], "format": ".1f"}},
     "xError": {"field": "xe"}}},
   {"data": {"name": "pts"}, "mark": {"type": "point", "filled": true, "color": "#000000", "size": 4, "opacity": 1}, "encoding": {
     "x": {"field": "E", "type": "quantitative", "title": "energy (keV)", "scale": {"domain": [-0.02, 8.05], "nice": false, "zero": false}, "axis": {"values": [0,1,2,3,4,5,6,7,8], "format": "d", "titlePadding": 2}},
     "y": {"field": "rr", "type": "quantitative", "title": "sigma", "scale": {"domain": [-3.55, 3.2], "nice": false, "zero": false}, "axis": {"values": [-2.5, 0, 2.5], "format": ".1f"}}}}
  ]
 }
 ]
}
]
}
